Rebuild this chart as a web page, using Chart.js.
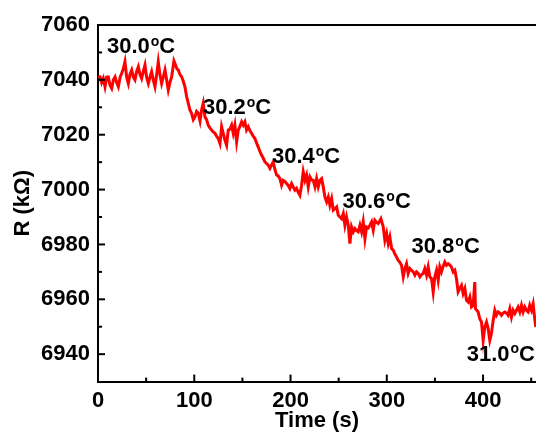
<!DOCTYPE html>
<html>
<head>
<meta charset="utf-8">
<script src="https://cdn.jsdelivr.net/npm/chart.js@4.4.1/dist/chart.umd.min.js"></script>
<style>
html,body{margin:0;padding:0;background:#fff;}
#wrap{width:536px;height:432px;position:relative;}
</style>
</head>
<body>
<div id="wrap"><canvas id="c" width="536" height="432"></canvas></div>
<script>
// ---- data ----
const timeS = [0,2.1,3.8,5.5,7.3,9,10.7,12.5,14.2,16,17.7,19.4,21.1,23,24.6,26.3,28,29.8,31.5,33.2,35,36.7,38.4,40.1,41.9,43.6,45.3,47,48.8,50.5,52.3,54,55.7,57.4,59.2,61,62.6,64.3,66.1,67.8,69.6,71.3,73,74.7,76.5,77.7,78.9,80.5,82,83.4,85.1,86.9,88.6,90.3,92,93.8,95.5,97.2,99,
100.7,102.4,104.2,106,107.6,109.3,111.1,112.8,114.5,116.2,118,119.7,121.5,123.2,124.9,126.7,128.4,130.1,131.9,133.6,135.3,137,138.8,140.5,142.2,144,145.7,147.4,149.2,150.9,152.6,154.3,156.1,157.8,159.5,161.2,163,164.7,166.4,168.1,169.9,171.6,173.4,175.1,176.8,178.6,180.3,182,183.7,185.5,187.2,189,190.7,192.4,194.1,195.9,197.6,199.3,201.1,202.8,204.5,206.2,208,209.7,211.5,213.2,215,216.7,218.4,220.2,221.9,223.6,225.4,227.1,228.8,230.6,232.3,234,235.7,237.5,239.2,240.9,242.7,244.4,246.1,247.9,249.6,251.3,253,254.8,256.5,258.2,260,261.7,263.4,265.2,266.9,268.6,270.3,272.1,273.8,275.5,277.3,279,280.8,282.5,284.2,285.9,287.6,289.4,291.1,292.5,293.9,296.3,298,299.8,301.5,303.2,305,306.7,308.4,310,311.9,313.6,315.3,317.1,318.8,320.5,322.2,324,325.7,327.5,329.2,330.9,332.6,334.4,336.1,337.8,339.5,341.3,343,344.7,346.5,348.2,349.9,351.7,353.4,355.1,356.8,358.5,360.3,362,363.8,365.5,367.2,369,370.7,372.4,374.1,375.9,377.6,379.3,381.1,382.8,384.5,386.3,388,389.7,391.4,392.1,393.5,394.9,396.6,398.4,400.1,401.8,403.6,405.3,407,408.7,410.5,412.2,413.9,415.7,417.4,419.1,420.8,422.6,424.3,426,427.8,429.5,431.2,433,434.7,436.4,438.2,439.9,441.6,443.3,445,446.8,448.5,450.3,452,453.7,454.8];
const resistance = [7041,7041.1,7039,7040.5,7037.5,7041,7041.1,7038,7036.9,7040,7041.1,7039,7037.5,7041,7042.4,7044,7046.6,7041,7038.7,7042,7043.6,7041,7040,7043,7044.8,7042,7040.5,7043,7045.4,7041,7038.7,7041,7043,7040,7037.5,7042,7046.6,7042,7038.7,7041,7043.6,7040,7036.3,7039,7041.1,7044,7046.9,7045.5,7044,7043.6,7042,7041.1,7039.5,7037.5,7034,7031.4,7029,7027.8,7025.5,
7026.5,7028.5,7027.8,7025,7029,7031.5,7026.5,7025.5,7023.5,7022.5,7021.7,7021,7020.5,7019.5,7018.6,7016.8,7022.9,7020.5,7018,7016.2,7021.7,7022,7023.5,7020.5,7023.5,7017.4,7021.7,7023,7024.7,7023.5,7024.7,7021.7,7022.9,7021.5,7020.5,7019.5,7018.6,7017,7015.6,7014,7012.6,7011.5,7010.1,7009.5,7008.9,7007.7,7009,7010.1,7007.5,7005.3,7005,7004,7001.6,7003.4,7003,7002.2,7001.5,7000.4,7002.2,7001,6999.8,7000.5,6999,6997.9,7001.6,7006.5,7003.4,7005.3,7001,7004.6,7003.5,7003.4,7001,7004,7001,7003.4,7004,7001,6997.3,6995.5,6997.3,6994.3,6996.7,6992.5,6993,6993.7,6990.6,6990,6989.4,6991.3,6987,6990,6987,6980.3,6986.4,6984.6,6985.8,6985,6984.6,6987,6984.6,6988.2,6982.1,6986.4,6986,6987,6988.2,6985.2,6988.8,6988,6987.6,6988.5,6989.4,6986.4,6981.5,6984,6980.3,6982.7,6978.5,6977.9,6976.5,6975.5,6974.2,6973.5,6972.4,6968.2,6971.2,6973,6969.4,6971.2,6970.6,6970,6968.8,6970,6969.5,6968.2,6969,6969.4,6971.2,6968.8,6971.8,6968.2,6967.5,6962.7,6968.2,6970.6,6966.9,6971.8,6970,6972,6973.6,6972.4,6973,6972.5,6971.8,6970,6970.6,6967.5,6962.7,6964,6965.1,6962.1,6963.9,6959.6,6959,6960.8,6957.2,6957.8,6966.3,6956.6,6956,6955.4,6952.9,6951.7,6945,6949.9,6951.7,6949.3,6945,6947.5,6952.3,6956,6954.2,6955.4,6955,6954.2,6955,6955.4,6955,6954.2,6956.6,6953.5,6956,6954.8,6956,6957.2,6955.4,6957.8,6955.4,6957.2,6956,6955.4,6957.8,6956,6958.4,6952.9,6949.9];
const xTicks = [0,100,200,300,400];
const xMinorTicks = [50,150,250,350,450];
const yTicks = [6940,6960,6980,7000,7020,7040,7060];
const yMinorTicks = [6950,6970,6990,7010,7030,7050];
const annotTemps = ["30.0","30.2","30.4","30.6","30.8","31.0"];
const annotTime = [9.3,109,180.7,254,325.7,383];
const annotR = [7052,7029.7,7011.8,6995.4,6979.1,6939.9];
const xTitle = "Time (s)";
const yTitle = "R (kΩ)";

const FONT = "'Liberation Sans', Arial, sans-serif";

const points = timeS.map((t,i)=>({x:t,y:resistance[i]}));

const framePlugin = {
  id:'frame',
  afterDraw(chart){
    const {ctx, chartArea:a, scales:{x,y}} = chart;
    ctx.save();
    ctx.strokeStyle='#000';
    ctx.lineWidth=2;
    ctx.beginPath(); ctx.moveTo(a.left-1,a.top); ctx.lineTo(a.right,a.top); ctx.stroke();
    const tick=(px,py,len,vert)=>{ctx.beginPath(); if(vert){ctx.moveTo(px,py);ctx.lineTo(px,py-len);}else{ctx.moveTo(px,py);ctx.lineTo(px+len,py);} ctx.stroke();};
    xTicks.forEach(v=>tick(x.getPixelForValue(v),a.bottom,7,true));
    xMinorTicks.forEach(v=>tick(x.getPixelForValue(v),a.bottom,4,true));
    yTicks.forEach(v=>tick(a.left,y.getPixelForValue(v),7,false));
    yMinorTicks.forEach(v=>tick(a.left,y.getPixelForValue(v),4,false));
    ctx.fillStyle='#000';
    ctx.textBaseline='middle';
    ctx.textAlign='left';
    annotTemps.forEach((s,i)=>{
      let px=x.getPixelForValue(annotTime[i]);
      const py=y.getPixelForValue(annotR[i]);
      ctx.font="bold 22px "+FONT;
      ctx.fillText(s,px,py); px+=ctx.measureText(s).width+1;
      ctx.font="bold 14px "+FONT;
      ctx.fillText("o",px,py-5); px+=ctx.measureText("o").width;
      ctx.font="bold 22px "+FONT;
      ctx.fillText("C",px,py);
    });
    ctx.font="bold 22px "+FONT;
    ctx.textAlign='center';
    ctx.fillText(xTitle,(a.left+a.right)/2-0,421);
    ctx.translate(23,(a.top+a.bottom)/2);
    ctx.rotate(-Math.PI/2);
    ctx.fillText(yTitle,0,0);
    ctx.restore();
  }
};

new Chart(document.getElementById('c'),{
  type:'line',
  data:{datasets:[{data:points,borderColor:'#ff0000',borderWidth:3,pointRadius:0,tension:0,fill:false}]},
  options:{
    responsive:false,animation:false,
    layout:{padding:{top:25,right:0,left:0,bottom:0}},
    plugins:{legend:{display:false},tooltip:{enabled:false}},
    scales:{
      x:{type:'linear',min:0,max:455,
        afterBuildTicks(s){s.ticks=xTicks.map(v=>({value:v}));},
        afterFit(s){s.height=50.4;},
        grid:{display:true,drawOnChartArea:false,drawTicks:false},
        border:{display:true,color:'#000',width:2},
        ticks:{padding:6,color:'#000',font:{family:FONT,size:22,weight:'bold'},maxRotation:0,callback:v=>String(v)}
      },
      y:{type:'linear',min:6930,max:7060,
        afterBuildTicks(s){s.ticks=yTicks.map(v=>({value:v}));},
        afterFit(s){s.width=98;},
        grid:{display:true,drawOnChartArea:false,drawTicks:false},
        border:{display:true,color:'#000',width:2},
        ticks:{padding:8,color:'#000',font:{family:FONT,size:22,weight:'bold'},callback:v=>String(v)}
      }
    }
  },
  plugins:[framePlugin]
});
</script>
</body>
</html>
